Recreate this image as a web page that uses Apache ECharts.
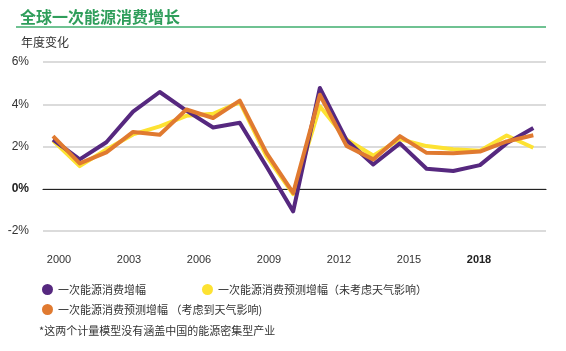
<!DOCTYPE html>
<html>
<head>
<meta charset="utf-8">
<script src="https://cdn.jsdelivr.net/npm/echarts@6/dist/echarts.min.js"></script>
<style>
  html, body { margin: 0; padding: 0; background: #fff; }
  #chart { width: 566px; height: 351px; }
</style>
</head>
<body>
<div id="chart"></div>
<script>
// 年份和三条线的数据
const years = [2000, 2001, 2002, 2003, 2004, 2005, 2006, 2007, 2008, 2009,
    2010, 2011, 2012, 2013, 2014, 2015, 2016, 2017, 2018];
const actual = [2.33, 1.39, 2.2, 3.65, 4.58, 3.7, 2.9, 3.12, 1.05, -1.07,
    4.77, 2.3, 1.15, 2.15, 0.95, 0.84, 1.12, 2.15, 2.88];
const forecastNoWeather = [2.28, 1.07, 1.86, 2.57, 2.95, 3.45, 3.55, 4.1, 1.55, -0.25,
    3.9, 2.33, 1.57, 2.35, 2.02, 1.87, 1.8, 2.52, 1.94];
const forecastWeather = [2.49, 1.2, 1.72, 2.69, 2.56, 3.75, 3.35, 4.17, 1.7, -0.2,
    4.45, 2.03, 1.39, 2.49, 1.7, 1.68, 1.76, 2.24, 2.53];
const yearLabels = ['2000', '2003', '2006', '2009', '2012', '2015', '2018'];
const seriesNames = ['一次能源消费增幅', '一次能源消费预测增幅（未考虑天气影响）', '一次能源消费预测增幅 （考虑到天气影响)'];

function pairs(vals) {
    return years.map(function (y, i) { return [y, vals[i]]; });
}

var chartDom = document.getElementById('chart');
var myChart = echarts.init(chartDom);
const font = '"Noto Sans CJK SC", "Liberation Sans", sans-serif';

var option = {
    animation: false,
    textStyle: { fontFamily: font },
    title: [
        {
            text: '全球一次能源消费增长',
            left: 15, top: 4,
            textStyle: { color: '#2f9e5b', fontSize: 16, fontWeight: 'bold', fontFamily: font }
        },
        {
            text: '年度变化',
            left: 16, top: 31,
            textStyle: { color: '#333', fontSize: 12, fontWeight: 'normal', fontFamily: font }
        },
        {
            text: '*这两个计量模型没有涵盖中国的能源密集型产业',
            left: 34, top: 320,
            textStyle: { color: '#333', fontSize: 11, fontWeight: 'normal', fontFamily: font }
        }
    ],
    graphic: [
        {
            type: 'line',
            shape: { x1: 16, y1: 27, x2: 546, y2: 27 },
            style: { stroke: '#3fae6e', lineWidth: 1.5 }
        }
    ],
    legend: [
        {
            data: [seriesNames[0], seriesNames[1]],
            left: 37, top: 279,
            icon: 'circle', itemWidth: 11, itemHeight: 11, itemGap: 56,
            textStyle: { color: '#333', fontSize: 11 },
            selectedMode: false
        },
        {
            data: [seriesNames[2]],
            left: 37, top: 299,
            icon: 'circle', itemWidth: 11, itemHeight: 11,
            textStyle: { color: '#333', fontSize: 11 },
            selectedMode: false
        }
    ],
    grid: [
        { left: 43, right: 20, top: 62, bottom: 120 },
        { left: 59, right: 87, top: 62, bottom: 120 }
    ],
    xAxis: [
        {
            type: 'value', gridIndex: 0,
            min: 1999.625, max: 2018.475,
            axisLabel: { show: false },
            axisTick: { show: false },
            splitLine: { show: false },
            axisLine: { show: true, onZero: true, lineStyle: { color: '#222', width: 1.2 } }
        },
        {
            type: 'category', gridIndex: 1,
            data: yearLabels,
            boundaryGap: false,
            axisLine: { show: false },
            axisTick: { show: false },
            axisLabel: {
                margin: 23,
                color: '#333',
                fontSize: 11,
                fontFamily: '"Liberation Sans", sans-serif',
                formatter: function (v) { return v === '2018' ? '{b|' + v + '}' : v; },
                rich: { b: { fontWeight: 'bold', fontSize: 11, color: '#222', fontFamily: '"Liberation Sans", sans-serif' } }
            }
        }
    ],
    yAxis: [
        {
            type: 'value', gridIndex: 0,
            min: -2, max: 6, interval: 2,
            axisLine: { show: false },
            axisTick: { show: false },
            axisLabel: {
                margin: 14,
                color: '#333',
                fontSize: 12,
                fontFamily: '"Liberation Sans", sans-serif',
                formatter: function (v) { return v === 0 ? '{b|0%}' : v + '%'; },
                rich: { b: { fontWeight: 'bold', fontSize: 12, color: '#222', fontFamily: '"Liberation Sans", sans-serif' } }
            },
            splitLine: { lineStyle: { color: '#cfcfcf', width: 1.5 } }
        },
        {
            type: 'value', gridIndex: 1, show: false
        }
    ],
    series: [
        {
            name: seriesNames[1], type: 'line',
            data: pairs(forecastNoWeather),
            symbol: 'none', color: '#fde232',
            lineStyle: { width: 4, color: '#fde232', join: 'round' },
            z: 2
        },
        {
            name: seriesNames[0], type: 'line',
            data: pairs(actual),
            symbol: 'none', color: '#56287f',
            lineStyle: { width: 4, color: '#56287f', join: 'round' },
            z: 3
        },
        {
            name: seriesNames[2], type: 'line',
            data: pairs(forecastWeather),
            symbol: 'none', color: '#e07a30',
            lineStyle: { width: 4, color: '#e07a30', join: 'round' },
            z: 4
        }
    ]
};
myChart.setOption(option);
</script>
</body>
</html>
